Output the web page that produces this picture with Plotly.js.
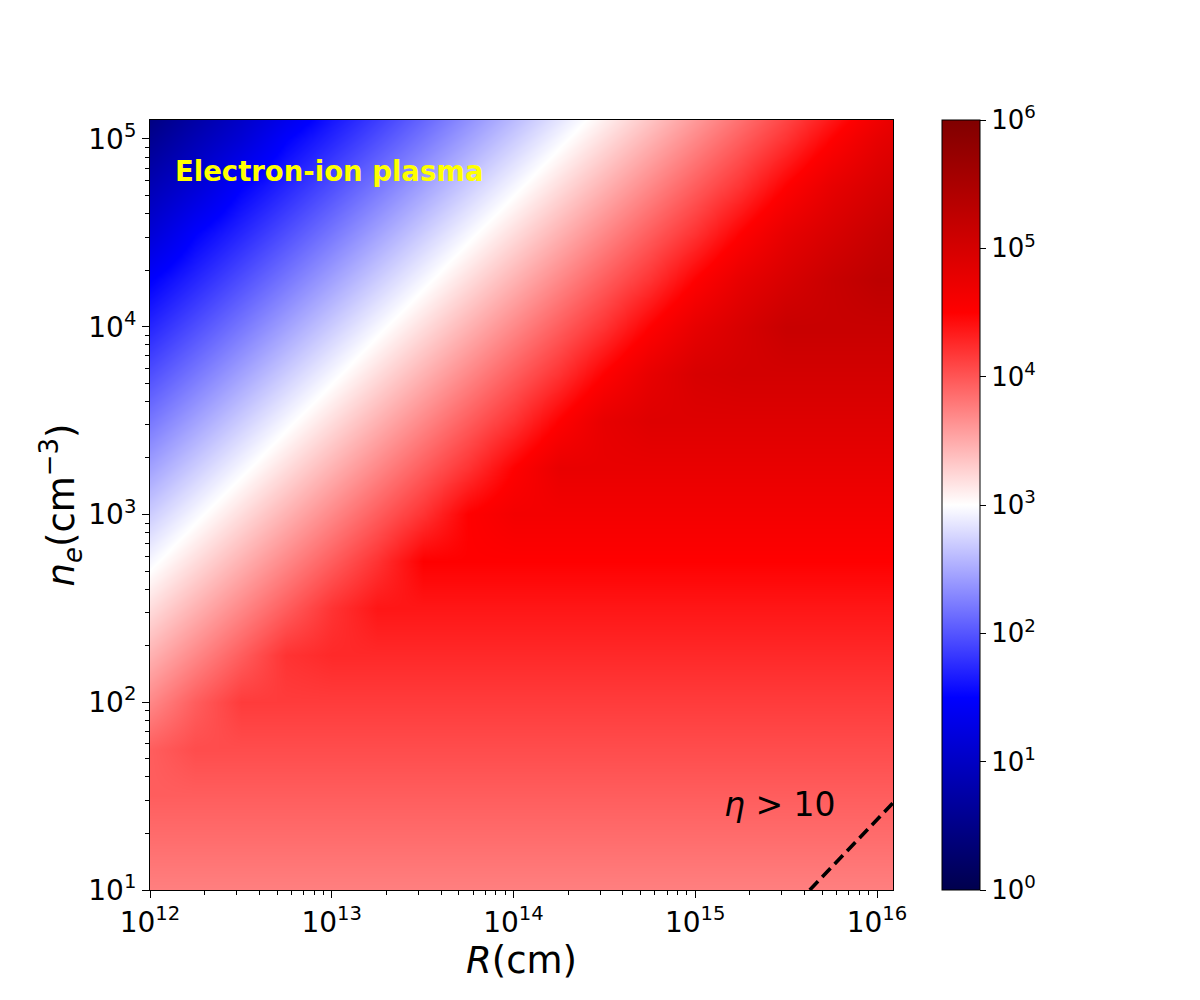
<!DOCTYPE html>
<html>
<head>
<meta charset="utf-8">
<script src="https://cdn.plot.ly/plotly-3.0.1.min.js"></script>
<style>body{margin:0;background:#fff;} #chart{width:1200px;height:1000px;}</style>
</head>
<body>
<div id="chart"></div>
<script>
// log10(R / cm) grid nodes
const logR = [12, 12.25, 12.5, 12.75, 13, 13.25, 13.5, 13.75, 14, 14.25, 14.5, 14.75, 15, 15.25, 15.5, 15.75, 16, 16.09];
// log10(n_e / cm^-3) grid nodes
const logNe = [1, 1.25, 1.5, 1.75, 2, 2.25, 2.5, 2.75, 3, 3.25, 3.5, 3.75, 4, 4.25, 4.5, 4.75, 5, 5.1];
// log10 of the colour quantity, one row per logNe node
const zRow1_00 = [3.75,3.75,3.75,3.75,3.75,3.75,3.75,3.75,3.75,3.75,3.75,3.75,3.75,3.75,3.75,3.75,3.75,3.75];
const zRow1_25 = [3.85,3.85,3.85,3.85,3.85,3.85,3.85,3.85,3.85,3.85,3.85,3.85,3.85,3.85,3.85,3.85,3.85,3.85];
const zRow1_50 = [3.95,3.95,3.95,3.95,3.95,3.95,3.95,3.95,3.95,3.95,3.95,3.95,3.95,3.95,3.95,3.95,3.95,3.95];
const zRow1_75 = [3.95,4.05,4.05,4.05,4.05,4.05,4.05,4.05,4.05,4.05,4.05,4.05,4.05,4.05,4.05,4.05,4.05,4.05];
const zRow2_00 = [3.70,3.95,4.15,4.15,4.15,4.15,4.15,4.15,4.15,4.15,4.15,4.15,4.15,4.15,4.15,4.15,4.15,4.15];
const zRow2_25 = [3.45,3.70,3.95,4.20,4.26,4.26,4.26,4.26,4.26,4.26,4.26,4.26,4.26,4.26,4.26,4.26,4.26,4.26];
const zRow2_50 = [3.20,3.45,3.70,3.95,4.20,4.37,4.37,4.37,4.37,4.37,4.37,4.37,4.37,4.37,4.37,4.37,4.37,4.37];
const zRow2_75 = [2.95,3.20,3.45,3.70,3.95,4.20,4.50,4.50,4.50,4.50,4.50,4.50,4.50,4.50,4.50,4.50,4.50,4.50];
const zRow3_00 = [2.70,2.95,3.20,3.45,3.70,3.95,4.20,4.50,4.63,4.63,4.63,4.63,4.63,4.63,4.63,4.63,4.63,4.63];
const zRow3_25 = [2.45,2.70,2.95,3.20,3.45,3.70,3.95,4.20,4.50,4.76,4.76,4.76,4.76,4.76,4.76,4.76,4.76,4.76];
const zRow3_50 = [2.20,2.45,2.70,2.95,3.20,3.45,3.70,3.95,4.20,4.50,4.78,4.89,4.89,4.89,4.89,4.89,4.89,4.89];
const zRow3_75 = [1.96,2.20,2.45,2.70,2.95,3.20,3.45,3.70,3.95,4.20,4.50,4.78,4.97,5.02,5.02,5.02,5.02,5.02];
const zRow4_00 = [1.72,1.96,2.20,2.45,2.70,2.95,3.20,3.45,3.70,3.95,4.20,4.50,4.78,4.97,5.15,5.15,5.15,5.15];
const zRow4_25 = [1.49,1.72,1.96,2.20,2.45,2.70,2.95,3.20,3.45,3.70,3.95,4.20,4.50,4.78,4.97,5.15,5.28,5.28];
const zRow4_50 = [1.15,1.49,1.72,1.96,2.20,2.45,2.70,2.95,3.20,3.45,3.70,3.95,4.20,4.50,4.78,4.97,5.15,5.21];
const zRow4_75 = [0.87,1.15,1.49,1.72,1.96,2.20,2.45,2.70,2.95,3.20,3.45,3.70,3.95,4.20,4.50,4.78,4.97,5.03];
const zRow5_00 = [0.57,0.87,1.15,1.49,1.72,1.96,2.20,2.45,2.70,2.95,3.20,3.45,3.70,3.95,4.20,4.50,4.78,4.85];
const zRow5_10 = [0.45,0.75,1.04,1.35,1.63,1.86,2.10,2.35,2.60,2.85,3.10,3.35,3.60,3.85,4.10,4.38,4.67,4.77];

// eta > 10 boundary (dashed line), log10 units
const etaLineLogR = [15.63, 16.088];
const etaLineLogNe = [1.0, 1.464];

// tick labels
const xTickVals = [12, 13, 14, 15, 16];
const xTickText = ['10<sup>12</sup>','10<sup>13</sup>','10<sup>14</sup>','10<sup>15</sup>','10<sup>16</sup>'];
const yTickVals = [1, 2, 3, 4, 5];
const yTickText = ['10<sup>1</sup>','10<sup>2</sup>','10<sup>3</sup>','10<sup>4</sup>','10<sup>5</sup>'];
const cTickVals = [0, 1, 2, 3, 4, 5, 6];
const cTickText = ['10<sup>0</sup>','10<sup>1</sup>','10<sup>2</sup>','10<sup>3</sup>','10<sup>4</sup>','10<sup>5</sup>','10<sup>6</sup>'];

const zGrid = [zRow1_00,zRow1_25,zRow1_50,zRow1_75,zRow2_00,zRow2_25,zRow2_50,zRow2_75,zRow3_00,zRow3_25,zRow3_50,zRow3_75,zRow4_00,zRow4_25,zRow4_50,zRow4_75,zRow5_00,zRow5_10];

function minorTicks(lo, hi) {
  const out = [];
  for (let d = lo; d <= hi; d++) for (let k = 2; k <= 9; k++) out.push(d + Math.log10(k));
  return out;
}

const seismic = [[0,'rgb(0,0,77)'],[0.25,'rgb(0,0,255)'],[0.5,'rgb(255,255,255)'],[0.75,'rgb(255,0,0)'],[1,'rgb(128,0,0)']];
const FONT = 'DejaVu Sans, Liberation Sans, sans-serif';

const traces = [
  {
    type: 'heatmap', x: logR, y: logNe, z: zGrid, zsmooth: 'best',
    zmin: 0, zmax: 6, colorscale: seismic, hoverinfo: 'skip',
    colorbar: {
      x: 1.066, xanchor: 'left', xpad: 0, y: 0.5, yanchor: 'middle', ypad: 0,
      len: 1, lenmode: 'fraction', thickness: 38, thicknessmode: 'pixels',
      outlinecolor: 'black', outlinewidth: 1,
      tickmode: 'array', tickvals: cTickVals, ticktext: cTickText,
      ticks: 'outside', ticklen: 6, tickcolor: 'black', tickwidth: 1,
      tickfont: {family: FONT, size: 26, color: 'black'}
    }
  },
  {
    type: 'scatter', mode: 'lines', x: etaLineLogR, y: etaLineLogNe,
    line: {color: 'black', width: 3.6, dash: '12px,6px'}, hoverinfo: 'skip', showlegend: false
  }
];

const axisCommon = {
  showgrid: false, zeroline: false, showline: true, mirror: true,
  linecolor: 'black', linewidth: 1, ticks: 'outside', ticklen: 7, tickwidth: 1, tickcolor: 'black',
  tickmode: 'array', tickfont: {family: FONT, size: 28, color: 'black'}
};

const layout = {
  width: 1200, height: 1000,
  margin: {l: 150, r: 307, t: 120, b: 110},
  paper_bgcolor: 'white', plot_bgcolor: 'white',
  showlegend: false,
  font: {family: FONT, color: 'black'},
  xaxis: Object.assign({}, axisCommon, {
    range: [12, 16.088], tickvals: xTickVals, ticktext: xTickText,
    minor: {tickmode: 'array', tickvals: minorTicks(12, 16), ticks: 'outside', ticklen: 4, tickcolor: 'black', tickwidth: 1},
    title: {text: '<i>R</i>(cm)', font: {family: FONT, size: 37, color: 'black'}, standoff: 0}
  }),
  yaxis: Object.assign({}, axisCommon, {
    range: [1, 5.101], tickvals: yTickVals, ticktext: yTickText,
    minor: {tickmode: 'array', tickvals: minorTicks(1, 5), ticks: 'outside', ticklen: 4, tickcolor: 'black', tickwidth: 1},
    title: {text: '<i>n<sub>e</sub></i>(cm<sup>−3</sup>)', font: {family: FONT, size: 37, color: 'black'}, standoff: 2}
  }),
  annotations: [
    {x: 12.125, y: 4.83, xref: 'x', yref: 'y', xanchor: 'left', yanchor: 'middle', showarrow: false,
     text: '<b>Electron-ion plasma</b>', font: {family: FONT, size: 27.5, color: '#ffff00'}},
    {x: 15.466, y: 1.455, xref: 'x', yref: 'y', xanchor: 'center', yanchor: 'middle', showarrow: false,
     text: '<i>η</i> > 10', font: {family: FONT, size: 33, color: 'black'}}
  ]
};

Plotly.newPlot('chart', traces, layout, {staticPlot: true, displayModeBar: false});
</script>
</body>
</html>
